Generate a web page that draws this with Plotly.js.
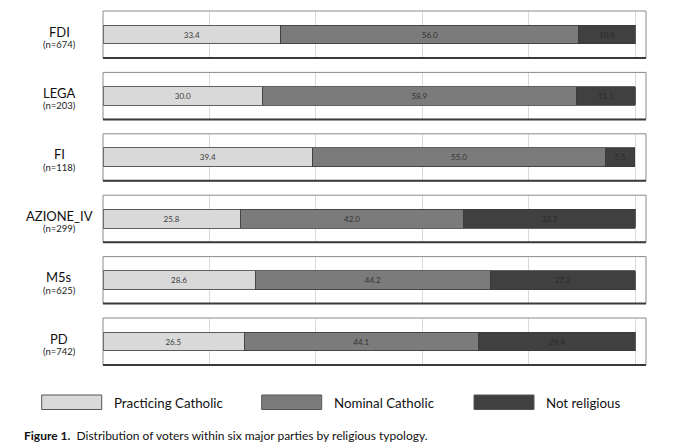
<!DOCTYPE html>
<html>
<head>
<meta charset="utf-8">
<script src="https://cdn.plot.ly/plotly-3.0.1.min.js"></script>
<style>html,body{margin:0;padding:0;background:#fff;}#chart{width:680px;height:447px;}</style>
</head>
<body>
<div id="chart"></div>
<script>
// ---- data ----
const parties = ["FDI", "LEGA", "FI", "AZIONE_IV", "M5s", "PD"];
const sampleSizes = ["(n=674)", "(n=203)", "(n=118)", "(n=299)", "(n=625)", "(n=742)"];
const seriesNames = ["Practicing Catholic", "Nominal Catholic", "Not religious"];
const practicing = [33.4, 30.0, 39.4, 25.8, 28.6, 26.5];
const nominal = [56.0, 58.9, 55.0, 42.0, 44.2, 44.1];
const notReligious = [10.6, 11.1, 5.5, 32.2, 27.2, 29.4];
const captionBold = "Figure 1.";
const captionText = "Distribution of voters within six major parties by religious typology.";

// ---- styling ----
const W = 680, H = 447;
const M = {l: 103, r: 34, t: 11, b: 79};
const plotW = W - M.l - M.r, plotH = H - M.t - M.b;
const colors = ["#d9d9d9", "#7b7b7b", "#404040"];
const textColors = ["#3c3c3c", "#333333", "#2a2a2a"];
const FONT = "Lato, 'Liberation Sans', sans-serif";
const panelH = 47, panelStep = 61.4;
const px2x = p => (p - M.l) / plotW;
const px2y = p => (H - M.b - p) / plotH;

const seriesValues = [practicing, nominal, notReligious];
const traces = [];
const layout = {
  width: W, height: H,
  margin: M,
  paper_bgcolor: "#fff", plot_bgcolor: "#fff",
  barmode: "stack",
  showlegend: false,
  font: {family: FONT, color: "#222"},
  shapes: [], annotations: []
};

parties.forEach((p, i) => {
  const sfx = i === 0 ? "" : String(i + 1);
  const top = M.t + panelStep * i;
  const bot = top + panelH;
  layout["xaxis" + sfx] = {
    range: [0, 102], dtick: 20, tick0: 0, showgrid: true, gridcolor: "#d9d9d9", gridwidth: 1,
    zeroline: false, showticklabels: false, ticks: "", showline: false,
    anchor: "y" + sfx, fixedrange: true
  };
  layout["yaxis" + sfx] = {
    domain: [px2y(bot), px2y(top)], range: [-0.5, 0.5],
    showgrid: false, zeroline: false, showticklabels: false, ticks: "",
    anchor: "x" + sfx, fixedrange: true
  };
  seriesValues.forEach((vals, s) => {
    traces.push({
      type: "bar", orientation: "h",
      x: [vals[i]], y: [0], width: 0.4,
      xaxis: "x" + sfx, yaxis: "y" + sfx,
      name: seriesNames[s],
      marker: {color: colors[s], line: {color: "#3a3a3a", width: 0.8}},
      texttemplate: "%{x:.1f}", textposition: "inside", insidetextanchor: "middle",
      textfont: {family: FONT, size: 8, color: textColors[s]},
      constraintext: "none",
      hoverinfo: "skip"
    });
  });
  // panel frame
  const xr = "x" + sfx + " domain", yr = "y" + sfx + " domain";
  layout.shapes.push({type: "rect", xref: xr, yref: yr, x0: 0, x1: 1, y0: 0, y1: 1,
    line: {color: "#8a8a8a", width: 1}, layer: "above"});
  layout.shapes.push({type: "line", xref: xr, yref: yr, x0: 0, x1: 1, y0: 0, y1: 0,
    line: {color: "#3a3a3a", width: 2}, layer: "above"});
  // party labels
  const mid = (top + bot) / 2;
  layout.annotations.push({xref: "paper", yref: "paper", x: px2x(59), y: px2y(mid - 3),
    text: p, showarrow: false, xanchor: "center", yanchor: "middle",
    font: {family: FONT, size: 13, color: "#111"}});
  layout.annotations.push({xref: "paper", yref: "paper", x: px2x(59), y: px2y(mid + 10),
    text: sampleSizes[i], showarrow: false, xanchor: "center", yanchor: "middle",
    font: {family: FONT, size: 9.5, color: "#222"}});
});

// legend
const legendBoxes = [[41.7, 101.7], [261.7, 321.7], [474, 534]];
seriesNames.forEach((n, s) => {
  const [a, b] = legendBoxes[s];
  layout.shapes.push({type: "rect", xref: "paper", yref: "paper",
    x0: px2x(a), x1: px2x(b), y0: px2y(409.5), y1: px2y(395),
    fillcolor: colors[s], line: {color: "#555", width: 1}});
  layout.annotations.push({xref: "paper", yref: "paper", x: px2x(b + 10), y: px2y(402.5),
    text: n, showarrow: false, xanchor: "left", yanchor: "middle",
    font: {family: FONT, size: 13.3, color: "#111"}});
});

// caption
layout.annotations.push({xref: "paper", yref: "paper", x: px2x(22), y: px2y(435),
  text: "<b>" + captionBold + "</b>  " + captionText, showarrow: false,
  xanchor: "left", yanchor: "middle",
  font: {family: FONT, size: 12, color: "#111"}});

Plotly.newPlot("chart", traces, layout, {displayModeBar: false, staticPlot: true});
</script>
</body>
</html>
